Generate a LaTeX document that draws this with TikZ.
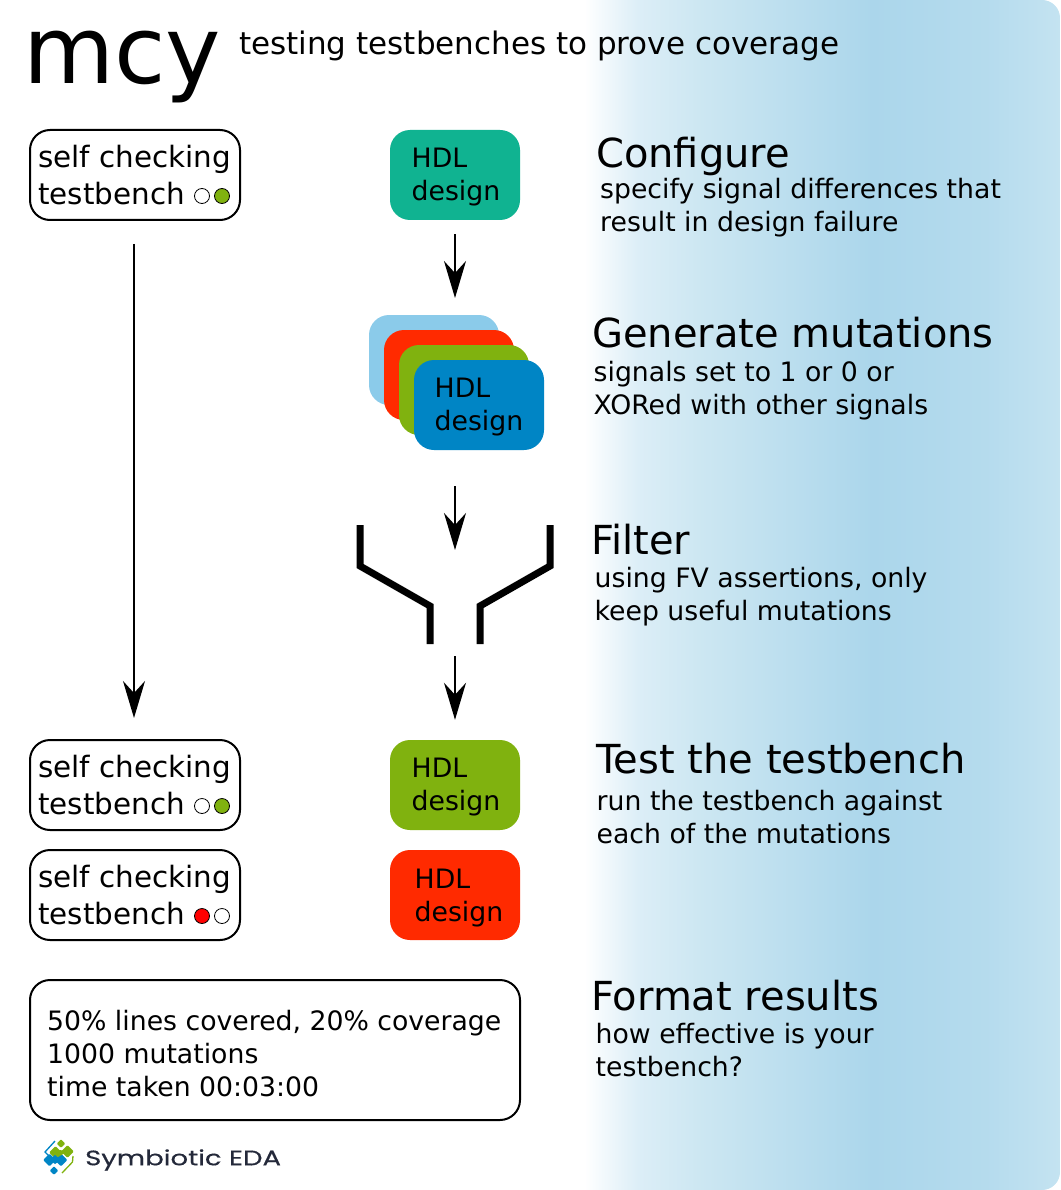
\documentclass[tikz,border=0pt]{standalone}
\usepackage{fontspec}
\setmainfont{DejaVu Sans}
\newfontfamily\logofont[FakeStretch=1.31,FakeBold=0.4]{Poppins}
\usepackage{xcolor}
\usetikzlibrary{arrows.meta}

\definecolor{hdlteal}{HTML}{10B391}
\definecolor{hdlsky}{HTML}{8BCBEA}
\definecolor{hdlred}{HTML}{FF2A00}
\definecolor{hdlgreen}{HTML}{80B20F}
\definecolor{hdlblue}{HTML}{0085C5}
\definecolor{bgmid}{HTML}{DCEEF7}
\definecolor{bgsoft}{HTML}{CDE7F2}
\definecolor{bgdeep}{HTML}{ABD6EB}
\definecolor{bgpale}{HTML}{C4E3F1}
\definecolor{logoink}{HTML}{24293A}

% the picture's width covers 25bp .. 75bp of the shading
\pgfdeclarehorizontalshading{bgshade}{100bp}{
    color(0bp)=(white); color(39.5bp)=(white); color(43.5bp)=(bgmid);
    color(48bp)=(bgsoft); color(61bp)=(bgdeep); color(69.5bp)=(bgdeep!60!bgpale);
    color(75bp)=(bgpale); color(100bp)=(bgpale)}

\tikzset{
    tbbox/.style = {draw, line width = 2pt, rounded corners = 20pt, fill = white,
        minimum width = 210pt, minimum height = 90pt, inner sep = 0pt},
    hdlbox/.style = {rounded corners = 20pt, minimum width = 130pt,
        minimum height = 90pt, inner sep = 0pt},
    tbtext/.style = {font = \fontsize{29.4}{36.5}\selectfont, align = left,
        anchor = west, inner sep = 0pt},
    hdltext/.style = {font = \fontsize{26.7}{33}\selectfont, align = left,
        anchor = west, inner sep = 0pt},
    headtext/.style = {font = \fontsize{40}{48}\selectfont, anchor = west, inner sep = 0pt},
    lamp/.style = {draw, circle, line width = 0.8pt, minimum size = 15pt, inner sep = 0pt},
    flow/.style = {line width = 2pt, -{Stealth[length = 37pt, width = 22pt, inset = 12pt]}},
    funnel/.style = {line width = 7pt, miter limit = 10},
    logosq/.style = {rotate = 45, minimum size = 9pt, inner sep = 0pt, rounded corners = 1pt},
    logoline/.style = {line width = 1.3pt}
}

\begin{document}
\begin{tikzpicture}[x = 1pt, y = -1pt]
    \useasboundingbox (0, 0) rectangle (1060, 1190);

    % backdrop
    \shade[shading = bgshade] (390, 1190) -- (390, 0) [rounded corners = 18pt] -- (1060, 0)
        -- (1060, 1190) [sharp corners] -- cycle;

    % title
    \node[anchor = west, inner sep = 0pt, font = \fontsize{93.6}{100}\selectfont] (title) at (23, 67) {mcy};
    \node[anchor = west, inner sep = 0pt, font = \fontsize{31}{38}\selectfont] (subtitle) at (239, 46)
        {testing testbenches to prove coverage};

    % testbenches
    \node[tbbox] (tbone) at (135, 175) {};
    \node[tbtext] (tbonetext) at (38, 175) {self checking\\testbench};
    \node[lamp, fill = white] (tbonea) at (202, 196) {};
    \node[lamp, fill = hdlgreen] (tboneb) at (222, 196) {};

    \node[tbbox] (tbtwo) at (135, 785) {};
    \node[tbtext] (tbtwotext) at (38, 785) {self checking\\testbench};
    \node[lamp, fill = white] (tbtwoa) at (202, 806) {};
    \node[lamp, fill = hdlgreen] (tbtwob) at (222, 806) {};

    \node[tbbox] (tbthree) at (135, 895) {};
    \node[tbtext] (tbthreetext) at (38, 895) {self checking\\testbench};
    \node[lamp, fill = red] (tbthreea) at (202, 916) {};
    \node[lamp, fill = white] (tbthreeb) at (222, 916) {};

    % designs
    \node[hdlbox, fill = hdlteal] (cfg) at (455, 175) {};
    \node[hdltext] (cfgtext) at (411.5, 177) {HDL\\design};

    \node[hdlbox, fill = hdlsky] (gena) at (434, 360) {};
    \node[hdlbox, fill = hdlred] (genb) at (449, 375) {};
    \node[hdlbox, fill = hdlgreen] (genc) at (464, 390) {};
    \node[hdlbox, fill = hdlblue] (gend) at (479, 405) {};
    \node[hdltext] (gentext) at (434.5, 407) {HDL\\design};

    \node[hdlbox, fill = hdlgreen] (pass) at (455, 785) {};
    \node[hdltext] (passtext) at (411.5, 787) {HDL\\design};
    \node[hdlbox, fill = hdlred] (fail) at (455, 895) {};
    \node[hdltext] (failtext) at (414.5, 898) {HDL\\design};

    % funnel
    \draw[funnel] (360, 525) -- (360, 566) -- (430, 606) -- (430, 644);
    \draw[funnel] (550, 525) -- (550, 566) -- (480, 606) -- (480, 644);

    % arrows
    \coordinate (cfgend) at (455, 298);
    \coordinate (filtstart) at (455, 486);
    \coordinate (filtend) at (455, 550);
    \coordinate (outstart) at (455, 656);
    \draw[flow, shorten <= 14pt] (cfg) -- (cfgend);
    \draw[flow] (filtstart) -- (filtend);
    \draw[flow, shorten >= 20pt] (outstart) -- (pass);
    \coordinate (tbsouth) at (134, 220);
    \coordinate (tbnorth) at (134, 740);
    \draw[flow, shorten <= 24pt, shorten >= 22pt] (tbsouth) -- (tbnorth);

    % results
    \node[draw, line width = 2pt, rounded corners = 20pt, minimum width = 490pt,
        minimum height = 140pt, inner sep = 0pt, fill = white] (result) at (275, 1050) {};
    \node[hdltext] (resulttext) at (47, 1054) {50\% lines covered, 20\% coverage\\1000 mutations\\time taken 00:03:00};

    % steps
    \node[headtext] (stepa) at (596, 156) {Configure};
    \node[hdltext] (stepatext) at (600, 208) {specify signal differences that\\result in design failure};
    \node[headtext] (stepb) at (592, 333) {Generate mutations};
    \node[hdltext] (stepbtext) at (593.5, 391) {signals set to 1 or 0 or\\XORed with other signals};
    \node[headtext] (stepc) at (591, 540) {Filter};
    \node[hdltext] (stepctext) at (594.5, 597) {using FV assertions, only\\keep useful mutations};
    \node[headtext] (stepd) at (596, 759) {Test the testbench};
    \node[hdltext] (stepdtext) at (596.5, 817.5) {run the testbench against\\each of the mutations};
    \node[headtext] (stepe) at (591, 996) {Format results};
    \node[hdltext] (stepetext) at (595.5, 1050.5) {how effective is your\\testbench?};

    % logo
    \node[logosq, fill = hdlgreen, minimum size = 6pt] (logoa) at (61, 1143.5) {};
    \node[logosq, fill = hdlgreen] (logob) at (55.5, 1152.5) {};
    \node[logosq, fill = hdlgreen] (logoc) at (67.5, 1151.5) {};
    \node[logosq, fill = hdlblue] (logod) at (49.5, 1160) {};
    \node[logosq, fill = hdlblue] (logoe) at (61, 1160) {};
    \node[logosq, fill = hdlblue, minimum size = 6pt] (logof) at (54, 1170.5) {};
    \fill[hdlgreen] (logob.center) -- (58, 1157) -- (67.5, 1151.5) -- (60, 1150) -- cycle;
    \fill[hdlblue] (logod.center) -- (55, 1155) -- (61, 1160) -- (55, 1164) -- cycle;
    \draw[logoline, hdlblue] (55, 1141) -- (45, 1152) -- (50, 1157);
    \draw[logoline, hdlgreen] (73, 1156) -- (72.5, 1162) -- (62, 1173);
    \node[anchor = west, inner sep = 0pt, text = logoink, font = \logofont\fontsize{21}{24}\selectfont] (logotext) at (85, 1160) {Symbiotic EDA};
\end{tikzpicture}
\end{document}
